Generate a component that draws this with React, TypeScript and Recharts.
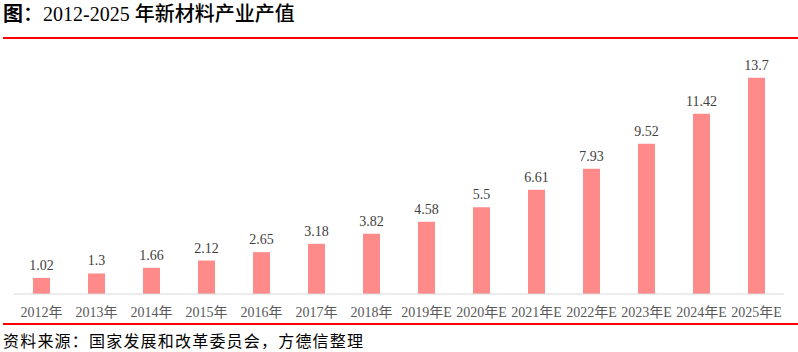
import { BarChart, Bar, XAxis, YAxis, LabelList } from 'recharts'

const years = ['2012年', '2013年', '2014年', '2015年', '2016年', '2017年', '2018年', '2019年E', '2020年E', '2021年E', '2022年E', '2023年E', '2024年E', '2025年E']
const outputValues = [1.02, 1.3, 1.66, 2.12, 2.65, 3.18, 3.82, 4.58, 5.5, 6.61, 7.93, 9.52, 11.42, 13.7]

const data = years.map((year, i) => ({ year, value: outputValues[i] }))

const serif = '"Liberation Serif", "Times New Roman", "Noto Sans CJK SC", serif'

export default function App() {
  return (
    <div style={{ position: 'absolute', left: 0, top: 0, width: 798, height: 352, background: '#fff', overflow: 'hidden' }}>
      <div style={{ position: 'absolute', left: 3, top: 2, fontFamily: serif, fontSize: 20, fontWeight: 500, color: '#000', whiteSpace: 'nowrap', lineHeight: '24px' }}>
        <span style={{ fontWeight: 'bold' }}>图</span>：2012-2025 年新材料产业产值
      </div>
      <div style={{ position: 'absolute', left: 3, top: 37, width: 795, height: 2, background: '#ff0000' }} />

      <div style={{ position: 'absolute', left: 0, top: 0 }}>
        <BarChart width={798} height={352} data={data} margin={{ top: 73, right: 14, bottom: 28, left: 14 }}>
          <XAxis
            dataKey="year"
            axisLine={{ stroke: '#d9d9d9' }}
            tickLine={false}
            tickMargin={7}
            interval={0}
            height={30}
            tick={{ fill: '#595959', fontSize: 14, fontFamily: serif }}
          />
          <YAxis hide domain={[0, 14]} />
          <Bar dataKey="value" fill="#ff8a8a" barSize={17} isAnimationActive={false}>
            <LabelList dataKey="value" position="top" offset={8} fill="#404040" fontSize={14} fontFamily={serif} />
          </Bar>
        </BarChart>
      </div>

      <div style={{ position: 'absolute', left: 3, top: 323, width: 795, height: 2, background: '#ff0000' }} />
      <div style={{ position: 'absolute', left: 3, top: 330, fontFamily: '"Noto Sans CJK SC", sans-serif', fontSize: 16, letterSpacing: 1.2, color: '#000', whiteSpace: 'nowrap', lineHeight: '20px' }}>
        资料来源：国家发展和改革委员会，方德信整理
      </div>
    </div>
  )
}
